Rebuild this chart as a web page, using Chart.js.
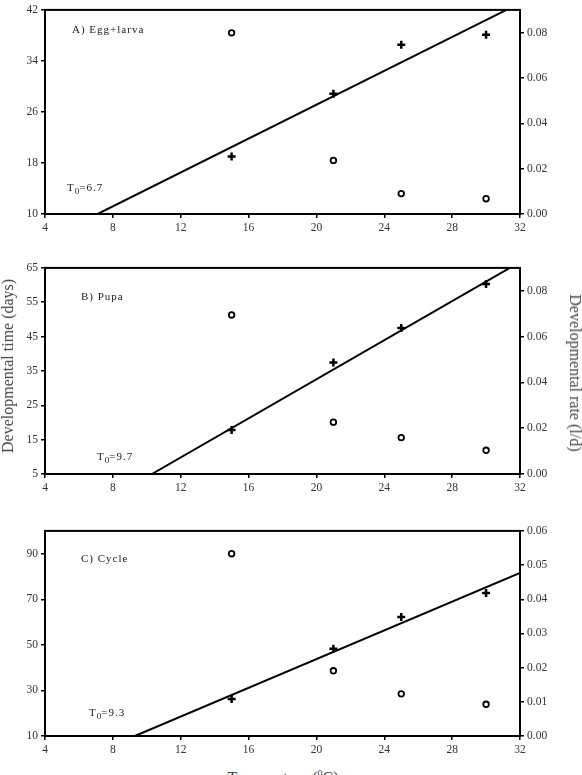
<!DOCTYPE html>
<html>
<head>
<meta charset="utf-8">
<script src="https://cdn.jsdelivr.net/npm/chart.js@4/dist/chart.umd.min.js"></script>
<style>
  body { margin: 0; background: #fff; width: 582px; height: 775px; overflow: hidden; position: relative; font-family: "Liberation Serif", serif; }
  canvas { position: absolute; left: 0; }
  .note { position: absolute; font-size: 11px; letter-spacing: 1px; color: #222; white-space: nowrap; line-height: 1; }
  .note sub { font-size: 9px; vertical-align: -3px; letter-spacing: 0; }
  .title { position: absolute; font-family: "Liberation Serif"; font-size: 16px; font-weight: normal; color: #444; white-space: nowrap; line-height: 1; }
</style>
</head>
<body>
<canvas id="chartA" width="582" height="244" style="top:0px"></canvas>
<canvas id="chartB" width="582" height="246" style="top:258px"></canvas>
<canvas id="chartC" width="582" height="245" style="top:521px"></canvas>

<div class="note" style="left:72px;top:24px">A) Egg+larva</div>
<div class="note" style="left:67px;top:182px">T<sub>0</sub>=6.7</div>
<div class="note" style="left:81px;top:291px">B) Pupa</div>
<div class="note" style="left:97px;top:451px">T<sub>0</sub>=9.7</div>
<div class="note" style="left:81px;top:553px">C) Cycle</div>
<div class="note" style="left:89px;top:707px">T<sub>0</sub>=9.3</div>

<div class="title" style="left:8px;top:366px;transform:translate(-50%,-50%) rotate(-90deg)">Developmental time (days)</div>
<div class="title" style="left:575px;top:373px;transform:translate(-50%,-50%) rotate(90deg)">Developmental rate (l/d)</div>
<div class="title" style="left:283px;top:769px;transform:translateX(-50%)">Temperature (<sup style="font-size:10px">0</sup>C)</div>

<script>
// temperatures tested (°C)
const temps = [15, 21, 25, 30];

// developmental time (days), left axis - open circles
const timeA = [38.4, 18.4, 13.2, 12.4];
const timeB = [51.3, 20.1, 15.6, 11.9];
const timeC = [90, 38.6, 28.5, 23.9];

// developmental rate (1/d), right axis - crosses
const rateA = [0.0254, 0.053, 0.0746, 0.079];
const rateB = [0.0192, 0.0487, 0.0638, 0.083];
const rateC = [0.0108, 0.0255, 0.0348, 0.0418];

// regression line end points (temperature, rate)
const lineAx = [7.1, 31.2], lineAy = [0, 0.09];
const lineBx = [10.3, 31.4], lineBy = [0, 0.09];
const lineCx = [9.3, 32], lineCy = [0, 0.0477];

// tick labels
const xTicks = [4, 8, 12, 16, 20, 24, 28, 32];
const leftTicksA = [10, 18, 26, 34, 42];
const leftTicksB = [5, 15, 25, 35, 45, 55, 65];
const leftTicksC = [10, 30, 50, 70, 90];
const rightTicksAB = [0, 0.02, 0.04, 0.06, 0.08];
const rightTicksC = [0, 0.01, 0.02, 0.03, 0.04, 0.05, 0.06];

// axis ranges
const xRange = [4, 32];
const leftA = [10, 42], rightA = [0, 0.09];
const leftB = [5, 65], rightB = [0, 0.09];
const leftC = [10, 100], rightC = [0, 0.06];

const tickFont = { family: "Liberation Serif", size: 11.5 };

const frame = {
    id: "frame",
    afterDraw(chart) {
        const a = chart.chartArea, c = chart.ctx;
        c.save();
        c.strokeStyle = "#000";
        c.lineWidth = 2;
        c.strokeRect(a.left, a.top, a.right - a.left, a.bottom - a.top);
        c.restore();
    }
};

function pts(xs, ys) {
    return xs.map((x, i) => ({ x: x, y: ys[i] }));
}

function axis(range, ticks, pos, size, fmt) {
    return {
        type: "linear",
        position: pos,
        min: range[0],
        max: range[1],
        grid: { drawOnChartArea: false, drawTicks: true, tickLength: 4, color: "#000", lineWidth: 1.5 },
        border: { display: true, color: "#000", width: 2 },
        ticks: {
            color: "#333",
            font: tickFont,
            padding: 3,
            callback: fmt
        },
        afterBuildTicks(s) {
            s.ticks = ticks.map(v => ({ value: v }));
        },
        afterFit(s) {
            if (size.w !== undefined) s.width = size.w;
            if (size.h !== undefined) s.height = size.h;
        }
    };
}

function makePanel(id, time, rate, lx, ly, left, leftTicks, right, rightTicks) {
    new Chart(document.getElementById(id), {
        type: "scatter",
        data: {
            datasets: [
                {
                    data: pts(lx, ly),
                    yAxisID: "y1",
                    showLine: true,
                    borderColor: "#000",
                    borderWidth: 2,
                    pointRadius: 0
                },
                {
                    data: pts(temps, time),
                    yAxisID: "y",
                    pointStyle: "circle",
                    pointRadius: 2.8,
                    borderWidth: 1.8,
                    borderColor: "#000",
                    backgroundColor: "#fff"
                },
                {
                    data: pts(temps, rate),
                    yAxisID: "y1",
                    pointStyle: "cross",
                    pointRadius: 4,
                    borderWidth: 2.5,
                    borderColor: "#000"
                }
            ]
        },
        options: {
            responsive: false,
            animation: false,
            devicePixelRatio: 1,
            layout: { padding: { top: 8, left: 0, right: 0, bottom: 0 } },
            plugins: { legend: { display: false }, tooltip: { enabled: false } },
            scales: {
                x: axis(xRange, xTicks, "bottom", { h: 30 }, v => v),
                y: axis(left, leftTicks, "left", { w: 45 }, v => v),
                y1: axis(right, rightTicks, "right", { w: 62 }, v => v.toFixed(2))
            }
        },
        plugins: [frame]
    });
}

makePanel("chartA", timeA, rateA, lineAx, lineAy, leftA, leftTicksA, rightA, rightTicksAB);
makePanel("chartB", timeB, rateB, lineBx, lineBy, leftB, leftTicksB, rightB, rightTicksAB);
makePanel("chartC", timeC, rateC, lineCx, lineCy, leftC, leftTicksC, rightC, rightTicksC);
</script>
</body>
</html>
